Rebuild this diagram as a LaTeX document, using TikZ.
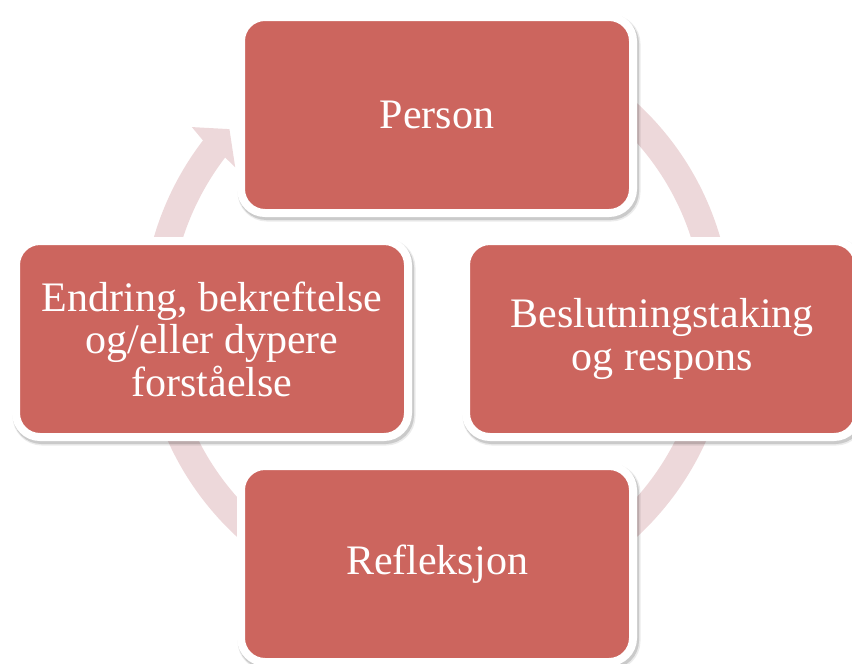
\documentclass[tikz,border=0pt]{standalone}
\usepackage{fontspec}
\setmainfont{Liberation Serif}
\usetikzlibrary{calc}
\definecolor{boxred}{RGB}{204,101,94}
\definecolor{ringpink}{RGB}{237,216,218}
\begin{document}
\begin{tikzpicture}[x=1pt,y=1pt,
  cycbox/.style={rounded corners=24pt, minimum width=392pt, minimum height=196pt,
    fill=boxred, draw=white, line width=8pt, text=white, align=center,
    font=\fontsize{42}{42.5}\selectfont,
    preaction={draw=black, draw opacity=0.08, line width=11pt, transform canvas={xshift=2pt,yshift=-3pt}},
    preaction={draw=black, draw opacity=0.14, line width=9pt, transform canvas={xshift=1.5pt,yshift=-2.5pt}}},
  ring/.style={draw=ringpink, line width=28pt}]
\useasboundingbox (0,0) rectangle (852,-664);
\coordinate (C) at (437,-320);
\draw[ring] ($(C)+(100:281)$) arc[start angle=100, end angle=-218.5, radius=281];
\fill[ringpink] ($(C)+(141.8:312)$) -- ($(C)+(137.4:282)$) -- ($(C)+(142.9:253)$)
  -- ($(C)+(142.5:267)$) -- ($(C)+(142.5:295)$) -- cycle;
\node[cycbox] (person) at (437,-115) {Person};
\node[cycbox] (besl) at (662,-339) {Beslutningstaking\\og respons};
\node[cycbox] (refl) at (437,-564) {Refleksjon};
\node[cycbox] (endr) at (212,-339) {Endring, bekreftelse\\og/eller dypere\\forståelse};
\end{tikzpicture}
\end{document}
